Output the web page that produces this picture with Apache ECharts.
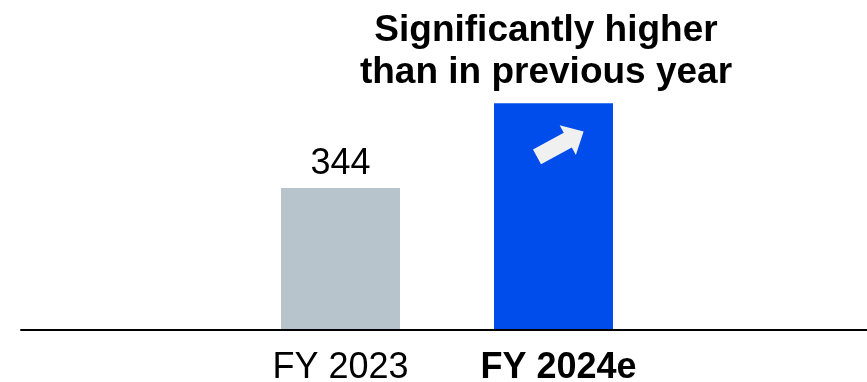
<!DOCTYPE html>
<html>
<head>
<meta charset="utf-8">
<script src="https://cdn.jsdelivr.net/npm/echarts@6/dist/echarts.min.js"></script>
<style>
html,body{margin:0;padding:0;background:#fff;}
#chart{width:867px;height:382px;}
</style>
</head>
<body>
<div id="chart"></div>
<script>
// Data
var categories = ['FY 2023', 'FY 2024e'];
var values = [344, 550];
var showValueLabel = [true, false];
var barColors = ['#B7C4CC', '#004DEB'];
var boldCategory = ['FY 2024e'];
var headline = ['Significantly higher', 'than in previous year'];

// Pad with empty slots on both sides (layout bands)
var axisCats = [''].concat(categories).concat(['']);
var seriesData = [null];
for (var i = 0; i < values.length; i++) {
  seriesData.push({
    value: values[i],
    itemStyle: { color: barColors[i] },
    label: { show: showValueLabel[i] }
  });
}
seriesData.push(null);

var FONT = '"Liberation Sans", Arial, Helvetica, sans-serif';

var chart = echarts.init(document.getElementById('chart'), null, { renderer: 'canvas' });
chart.setOption({
  animation: false,
  backgroundColor: '#ffffff',
  title: {
    text: headline.join('\n'),
    left: 541,
    top: 5,
    textAlign: 'center',
    textStyle: {
      fontFamily: FONT,
      fontSize: 37,
      fontWeight: 'bold',
      color: '#000',
      lineHeight: 42
    }
  },
  grid: { left: 21, width: 852, top: 0, bottom: 52, containLabel: false, outerBoundsMode: 'none' },
  xAxis: {
    type: 'category',
    data: axisCats,
    z: 3,
    axisTick: { show: false },
    axisLine: { lineStyle: { color: '#000', width: 2 } },
    axisLabel: {
      interval: 0,
      margin: 20,
      fontFamily: FONT,
      fontSize: 36,
      color: '#000',
      formatter: function (v) {
        if (boldCategory.indexOf(v) >= 0) return '{b|' + v + '}';
        return v;
      },
      rich: {
        b: { fontFamily: FONT, fontSize: 36, fontWeight: 'bold', color: '#000', padding: [0, 0, 0, 10] }
      }
    }
  },
  yAxis: {
    type: 'value',
    min: 0,
    max: 800,
    show: false,
    splitLine: { show: false }
  },
  series: [{
    type: 'bar',
    data: seriesData,
    barWidth: 119,
    label: {
      show: false,
      position: 'top',
      distance: 6,
      fontFamily: FONT,
      fontSize: 36,
      color: '#000'
    },
    markPoint: {
      silent: true,
      label: { show: false },
      data: [{
        coord: [categories[1], values[1]],
        symbol: 'path://M0,8.6 L35,8.6 L35,0 L53,17 L35,34 L35,25.4 L0,25.4 Z',
        symbolSize: [53, 34],
        symbolRotate: 28.5,
        symbolOffset: [6.8, 41.1],
        itemStyle: { color: '#F0F0F0' }
      }]
    }
  }]
});
</script>
</body>
</html>
